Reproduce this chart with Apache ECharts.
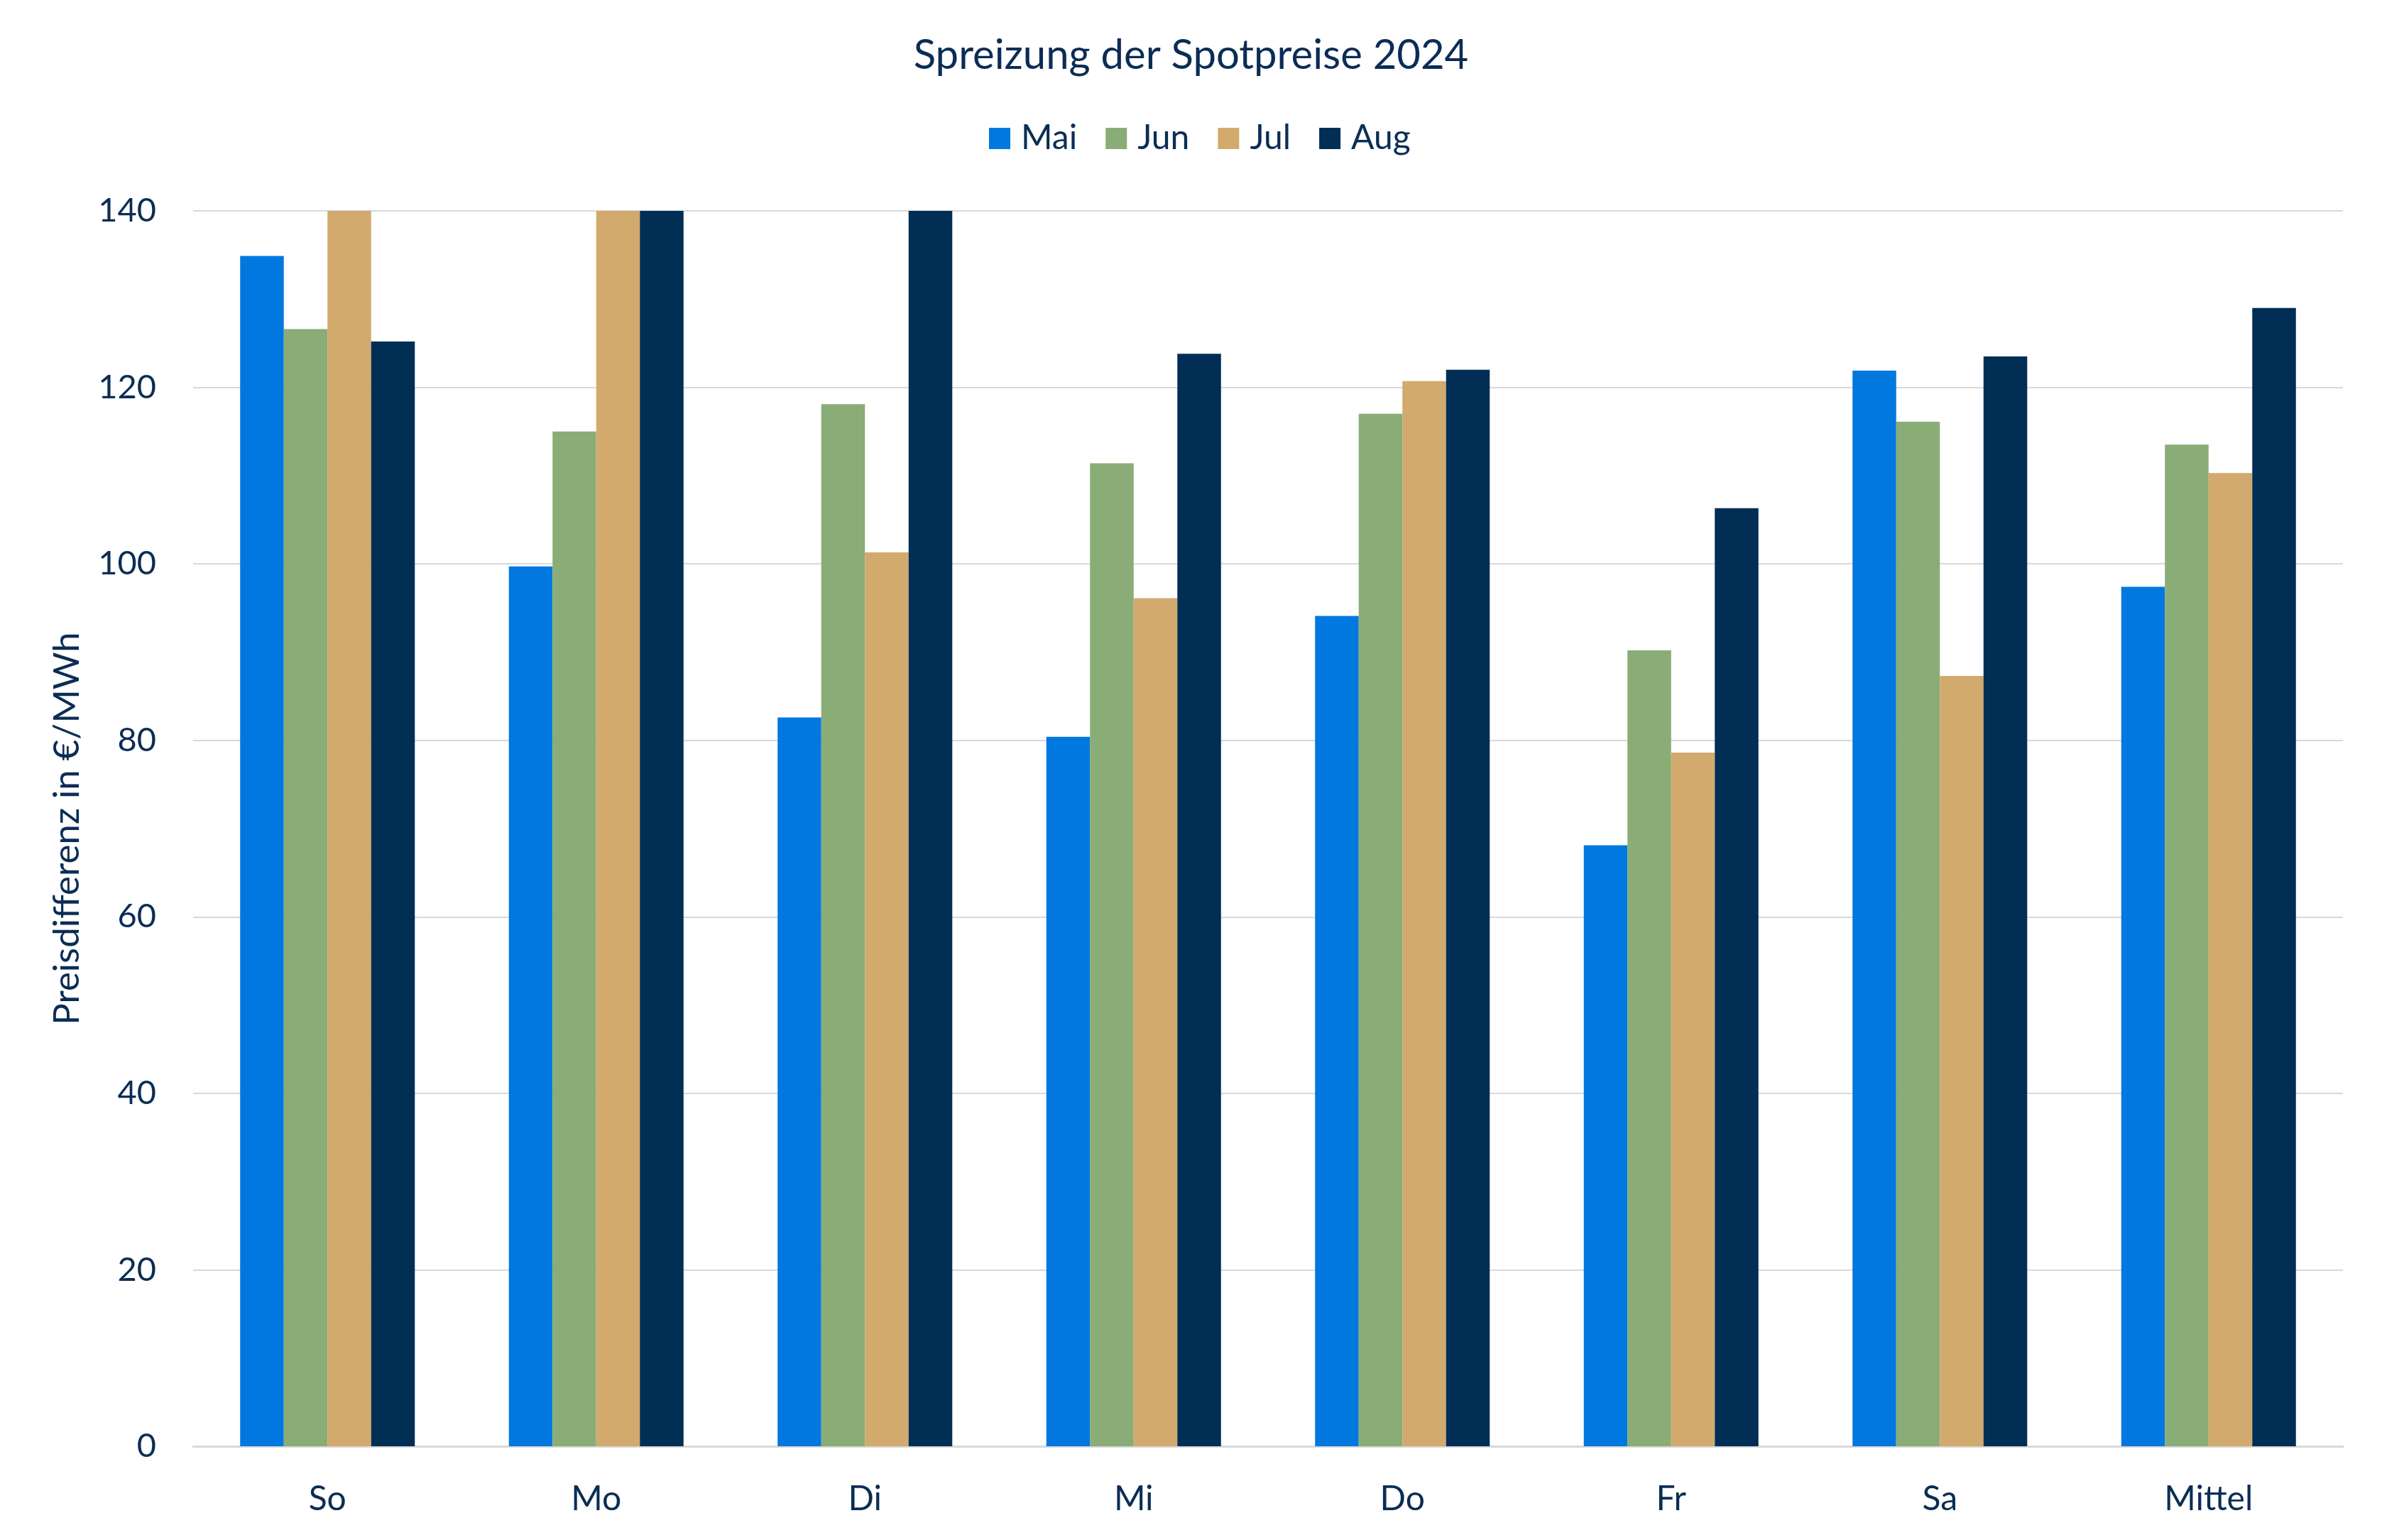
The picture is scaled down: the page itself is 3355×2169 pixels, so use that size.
<!DOCTYPE html>
<html>
<head>
<meta charset="utf-8">
<script src="https://cdn.jsdelivr.net/npm/echarts@6/dist/echarts.min.js"></script>
<style>html,body{margin:0;padding:0;background:#fff;}#chart{width:3355px;height:2169px;}</style>
</head>
<body>
<div id="chart"></div>
<script>
const categories = ['So', 'Mo', 'Di', 'Mi', 'Do', 'Fr', 'Sa', 'Mittel'];
const seriesNames = ['Mai', 'Jun', 'Jul', 'Aug'];
const mai = [134.9, 99.7, 82.6, 80.4, 94.1, 68.1, 121.9, 97.4];
const jun = [126.6, 115.0, 118.1, 111.4, 117.0, 90.2, 116.1, 113.5];
const jul = [140, 140, 101.3, 96.1, 120.7, 78.6, 87.3, 110.3];
const aug = [125.2, 140, 140, 123.8, 122.0, 106.3, 123.5, 129.0];
const yTicks = [0, 20, 40, 60, 80, 100, 120, 140];

const colors = ['#0078DF', '#8AAC76', '#D2AA6E', '#002E55'];
const textColor = '#0B2D55';
const font = 'Lato';

const chart = echarts.init(document.getElementById('chart'), null, {renderer: 'canvas'});
const values = [mai, jun, jul, aug];
chart.setOption({
  backgroundColor: '#ffffff',
  animation: false,
  title: {
    text: 'Spreizung der Spotpreise 2024',
    left: 'center',
    top: 44,
    textStyle: {color: textColor, fontFamily: font, fontWeight: 'normal', fontSize: 58}
  },
  legend: {
    data: seriesNames,
    top: 166,
    left: 1388,
    itemWidth: 30,
    itemHeight: 30,
    itemGap: 40,
    icon: 'rect',
    textStyle: {color: textColor, fontFamily: font, fontSize: 48, padding: [0, 0, 0, 10]}
  },
  grid: {left: 272, right: 55, top: 297, bottom: 132, containLabel: false},
  xAxis: {
    type: 'category',
    data: categories,
    axisLine: {show: true, lineStyle: {color: '#D9D9D9', width: 3}},
    axisTick: {show: false},
    axisLabel: {color: textColor, fontFamily: font, fontSize: 48, margin: 51}
  },
  yAxis: {
    type: 'value',
    min: 0,
    max: 140,
    interval: 20,
    name: 'Preisdifferenz in €/MWh',
    nameLocation: 'middle',
    nameGap: 152,
    nameTextStyle: {color: textColor, fontFamily: font, fontSize: 51},
    axisLine: {show: false},
    axisTick: {show: false},
    splitLine: {show: true, lineStyle: {color: '#D9D9D9', width: 2}},
    axisLabel: {color: textColor, fontFamily: font, fontSize: 47, margin: 52,
      formatter: v => yTicks.includes(v) ? String(v) : ''}
  },
  series: seriesNames.map((n, i) => ({
    name: n,
    type: 'bar',
    data: values[i],
    barGap: '0%',
    barCategoryGap: '35%',
    itemStyle: {color: colors[i]}
  }))
});
</script>
</body>
</html>
